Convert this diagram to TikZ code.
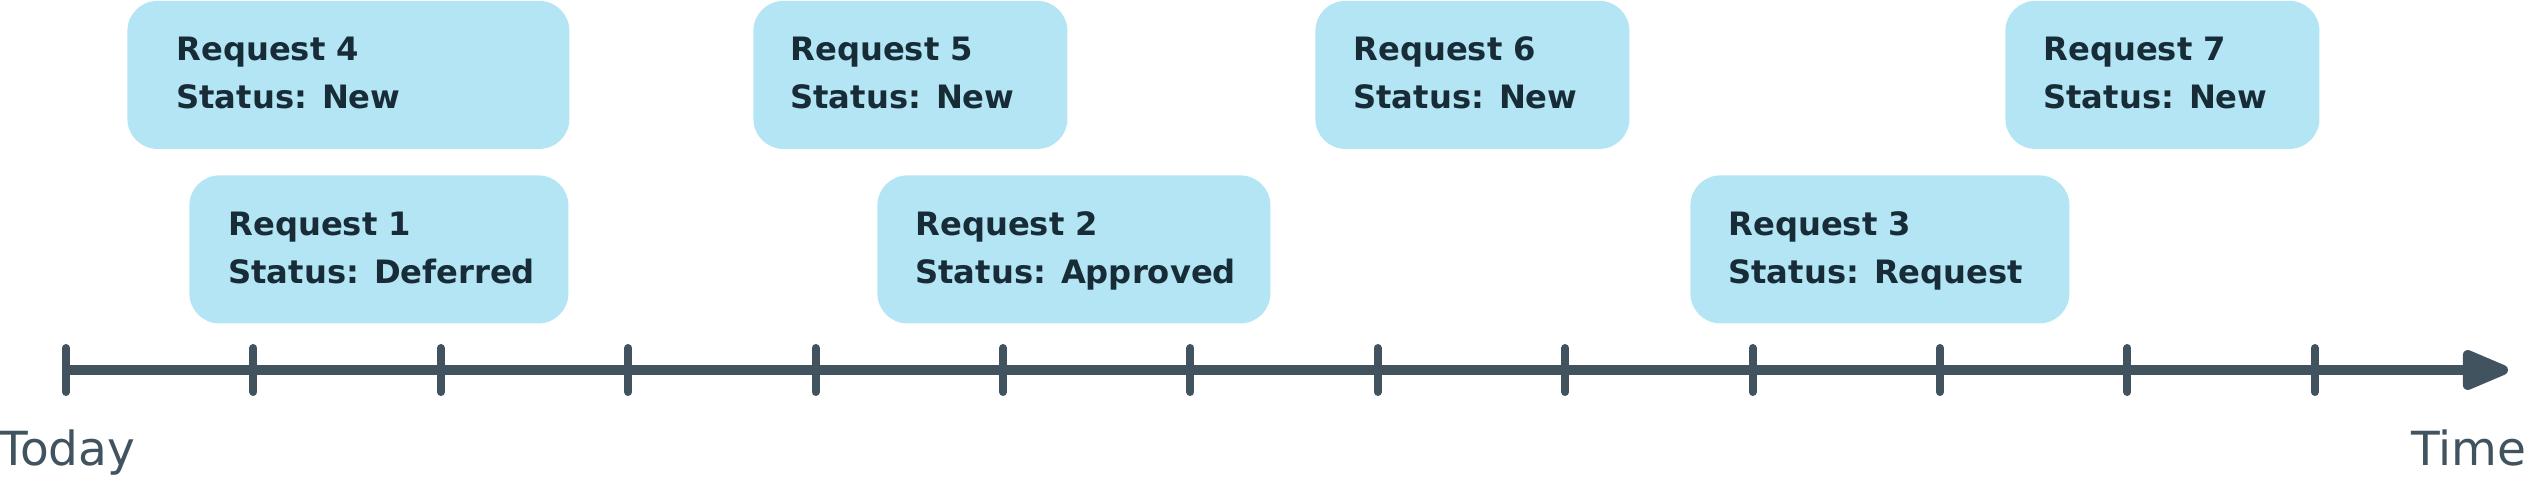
\documentclass[tikz,border=0pt]{standalone}
\usepackage{fontspec}
\setmainfont{DejaVu Sans}
\usetikzlibrary{arrows.meta,calc}
\definecolor{boxfill}{HTML}{B3E5F4}
\definecolor{boxtext}{HTML}{182C38}
\definecolor{axiscol}{HTML}{41535E}
\tikzset{
  reqbox/.style={fill=boxfill, draw=none, rounded corners=15pt, inner sep=0pt,
    minimum height=74pt, anchor=north west},
  reqtxt/.style={text=boxtext, inner sep=0pt, anchor=base west,
    font=\fontsize{16.1pt}{24.5pt}\selectfont\bfseries},
  axisline/.style={draw=axiscol, line width=5pt,
    -{Triangle[length=27pt,width=21pt,round]}},
  tickmark/.style={draw=axiscol, line width=4pt, line cap=round},
  axislabel/.style={text=axiscol, inner sep=0pt,
    font=\fontsize{23.5pt}{28pt}\selectfont}
}
\begin{document}
\begin{tikzpicture}[x=0.5pt, y=-0.5pt]
\useasboundingbox (0,0) rectangle (2528,481);
% request boxes
\foreach \n/\x/\y/\w/\p/\s in {
  4/127/0.5/442/49/New,
  1/189/175/379/39/Deferred,
  5/753/0.5/314/37/New,
  2/877/175/393/38/Approved,
  6/1315/0.5/314/38/New,
  3/1690/175/379/38/Request,
  7/2005/0.5/314/38/New}{
  \node[reqbox, minimum width={\w*0.5pt}] (box\n) at (\x,\y) {};
  \node[reqtxt] (ta\n) at ($(box\n.north west)+(\p,60)$) {Request \n};
  \node[reqtxt] (tb\n) at ($(box\n.north west)+(\p,108)$) {Status: \s};
}
% axis
\coordinate (axstart) at (66,370);
\coordinate (axend) at (2508,370);
\draw[axisline] (axstart) -- (axend);
\foreach \i in {0,...,12}{
  \coordinate (tk\i) at ({66+\i*187.4},370);
  \draw[tickmark] ($(tk\i)+(0,-22)$) -- ($(tk\i)+(0,22)$);
}
% labels
\node[axislabel, anchor=base west] (today) at (-1,465) {Today};
\node[axislabel, anchor=base east] (time) at (2527,465) {Time};
\end{tikzpicture}
\end{document}
